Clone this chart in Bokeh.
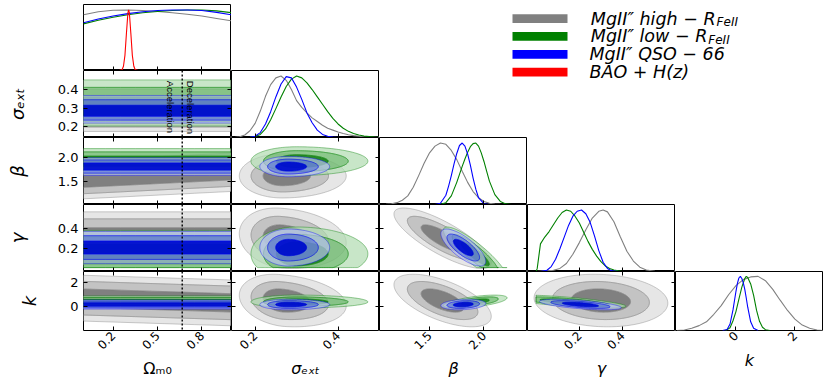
import numpy as np
from bokeh.plotting import figure
from bokeh.models import (Range1d, FixedTicker, LinearAxis, CustomJSTickFormatter,
                          GridPlot, Span)
from bokeh.core.properties import value
from bokeh.embed import file_html
from bokeh.resources import INLINE

# ------------------------------------------------------------------ data
axis_titles = ["Ωₘ₀", "σₑₓₜ", "β", "γ", "k"]
axis_italic = [False, True, True, True, True]
axis_limits = [(0.0, 1.0), (0.143, 0.5), (1.04, 2.40), (-0.04, 0.645), (-2.05, 2.97)]
x_tick_values = [[0.2, 0.5, 0.8], [0.2, 0.4], [1.5, 2.0], [0.2, 0.4], [0, 2]]
x_tick_labels = [["0.2", "0.5", "0.8"], ["0.2", "0.4"], ["1.5", "2.0"], ["0.2", "0.4"], ["0", "2"]]
y_tick_values = [[], [0.2, 0.3, 0.4], [1.5, 2.0], [0.2, 0.4], [0, 2]]
y_tick_labels = [[], ["0.2", "0.3", "0.4"], ["1.5", "2.0"], ["0.2", "0.4"], ["0", "2"]]
om_boundary = 0.667
region_labels = ["Acceleration", "Deceleration"]

series = ["gray", "green", "blue", "red"]
series_colors = ["#808080", "#008000", "#0000ff", "#ff0000"]
legend_main = ["MgII″ high − R", "MgII″ low − R", "MgII″ QSO − 66", "BAO + H(z)"]
legend_sub = ["FeII", "FeII", "", ""]

# 1-D marginals (positions, relative heights)
om_x = [0.0, 0.1, 0.2, 0.3, 0.4, 0.5, 0.6, 0.7, 0.8, 0.9, 1.0]
om_gray = [0.92, 0.97, 0.995, 1.0, 0.99, 0.975, 0.955, 0.93, 0.9, 0.86, 0.82]
om_green = [0.77, 0.83, 0.88, 0.92, 0.955, 0.975, 0.99, 1.0, 1.0, 0.985, 0.955]
om_blue = [0.79, 0.85, 0.9, 0.94, 0.97, 0.99, 1.0, 1.0, 0.99, 0.96, 0.92]
om_red_x = [0.24, 0.26, 0.27, 0.28, 0.29, 0.30, 0.305, 0.31, 0.32, 0.33, 0.34, 0.35, 0.37]
om_red = [0.0, 0.01, 0.07, 0.25, 0.61, 0.95, 1.0, 0.95, 0.61, 0.25, 0.07, 0.01, 0.0]

sig_x = [0.15, 0.1625, 0.175, 0.1875, 0.2, 0.2125, 0.225, 0.2375, 0.25, 0.2625, 0.275,
         0.2875, 0.3, 0.3125, 0.325, 0.3375, 0.35, 0.3625, 0.375, 0.3875, 0.4, 0.4125,
         0.425, 0.4375, 0.45, 0.4625, 0.475, 0.4875, 0.5]
sig_gray = [0.0, 0.01, 0.04, 0.11, 0.23, 0.43, 0.67, 0.86, 0.97, 1.0, 0.93, 0.78, 0.6, 0.49,
            0.4, 0.32, 0.26, 0.2, 0.15, 0.12, 0.09, 0.065, 0.045, 0.03, 0.02, 0.012, 0.006,
            0.003, 0.0]
sig_green = [0.0, 0.0, 0.0, 0.003, 0.015, 0.05, 0.14, 0.29, 0.47, 0.66, 0.83, 0.95, 1.0, 0.97,
             0.89, 0.78, 0.66, 0.54, 0.42, 0.31, 0.22, 0.15, 0.1, 0.065, 0.04, 0.025, 0.015,
             0.008, 0.004]
sig_blue = [0.0, 0.0, 0.0, 0.005, 0.02, 0.08, 0.22, 0.42, 0.66, 0.87, 0.99, 0.97, 0.82, 0.62,
            0.4, 0.24, 0.12, 0.05, 0.02, 0.006, 0.0, 0.0, 0.0, 0.0, 0.0, 0.0, 0.0, 0.0, 0.0]

beta_gray_x = [1.05, 1.1, 1.15, 1.2, 1.25, 1.3, 1.35, 1.4, 1.45, 1.5, 1.55, 1.6, 1.65, 1.7,
               1.75, 1.8, 1.85, 1.9, 1.95, 2.0, 2.05, 2.1, 2.15, 2.2, 2.25]
beta_gray = [0.0, 0.003, 0.01, 0.03, 0.07, 0.14, 0.28, 0.47, 0.67, 0.84, 0.95, 1.0, 0.98, 0.88,
             0.73, 0.54, 0.36, 0.21, 0.11, 0.05, 0.02, 0.007, 0.002, 0.0, 0.0]
beta_green_x = [1.55, 1.6, 1.65, 1.7, 1.75, 1.8, 1.825, 1.85, 1.875, 1.9, 1.925, 1.95, 1.975,
                2.0, 2.025, 2.05, 2.1, 2.15, 2.2, 2.25]
beta_green = [0.0, 0.005, 0.03, 0.14, 0.36, 0.62, 0.74, 0.85, 0.94, 0.99, 1.0, 0.95, 0.84,
              0.7, 0.54, 0.38, 0.16, 0.05, 0.01, 0.0]
beta_blue_x = [1.55, 1.6, 1.65, 1.675, 1.7, 1.725, 1.75, 1.775, 1.8, 1.825, 1.85, 1.875, 1.9,
               1.925, 1.95, 2.0, 2.05]
beta_blue = [0.0, 0.02, 0.15, 0.3, 0.47, 0.66, 0.83, 0.96, 1.0, 0.95, 0.82, 0.64, 0.43, 0.25,
             0.11, 0.01, 0.0]

gam_gray_x = [0.0, 0.05, 0.08, 0.11, 0.14, 0.17, 0.2, 0.23, 0.26, 0.29, 0.31, 0.33, 0.36, 0.39,
              0.42, 0.45, 0.48, 0.51, 0.55, 0.6, 0.64]
gam_gray = [0.0, 0.01, 0.02, 0.05, 0.13, 0.28, 0.47, 0.68, 0.87, 0.98, 1.0, 0.97, 0.81, 0.56,
            0.33, 0.17, 0.07, 0.025, 0.005, 0.0, 0.0]
gam_green_x = [-0.05, 0.0, 0.005, 0.02, 0.04, 0.06, 0.08, 0.1, 0.12, 0.14, 0.16, 0.18, 0.2,
               0.22, 0.24, 0.26, 0.28, 0.3, 0.32, 0.34, 0.36, 0.38, 0.4]
gam_green = [0.0, 0.0, 0.05, 0.45, 0.56, 0.65, 0.76, 0.87, 0.96, 1.0, 0.98, 0.9, 0.79, 0.64,
             0.49, 0.36, 0.25, 0.16, 0.09, 0.05, 0.025, 0.01, 0.0]
gam_blue_x = [0.02, 0.05, 0.07, 0.09, 0.11, 0.13, 0.15, 0.17, 0.19, 0.21, 0.23, 0.25, 0.27,
              0.29, 0.31, 0.33, 0.35, 0.38]
gam_blue = [0.0, 0.02, 0.08, 0.2, 0.37, 0.56, 0.75, 0.9, 0.98, 1.0, 0.94, 0.8, 0.58, 0.34,
            0.15, 0.05, 0.01, 0.0]

k_gray_x = [-2.0, -1.75, -1.5, -1.25, -1.0, -0.75, -0.5, -0.25, 0.0, 0.25, 0.5, 0.75, 1.0,
            1.25, 1.5, 1.75, 2.0, 2.25, 2.5, 2.75, 2.95]
k_gray = [0.0, 0.01, 0.04, 0.09, 0.16, 0.3, 0.46, 0.66, 0.83, 0.94, 0.99, 1.0, 0.92, 0.76,
          0.56, 0.37, 0.21, 0.1, 0.04, 0.01, 0.0]
k_green_x = [-0.35, -0.2, -0.1, 0.0, 0.1, 0.2, 0.3, 0.35, 0.4, 0.5, 0.6, 0.7, 0.8, 0.9, 1.0, 1.15]
k_green = [0.0, 0.05, 0.18, 0.35, 0.58, 0.8, 0.96, 1.0, 0.98, 0.86, 0.65, 0.37, 0.17, 0.06,
           0.015, 0.0]
k_blue_x = [-0.45, -0.3, -0.2, -0.1, 0.0, 0.05, 0.1, 0.15, 0.2, 0.25, 0.3, 0.35, 0.4, 0.5, 0.6, 0.75]
k_blue = [0.0, 0.02, 0.12, 0.38, 0.72, 0.87, 0.97, 1.0, 0.96, 0.88, 0.76, 0.6, 0.43, 0.16,
          0.04, 0.0]

# 2-D posterior summaries
# index: 0 Om (flat), 1 sigma_ext, 2 beta, 3 gamma, 4 k
gray_mode = [None, 0.265, 1.62, 0.30, 0.50]
gray_sd_lo = [None, 0.030, 0.13, 0.09, 0.65]
gray_sd_hi = [None, 0.045, 0.13, 0.09, 0.65]
gray_om_slope = [0.0, 0.0, 0.15, 0.0, -0.4]
green_mode = [None, 0.30, 1.92, 0.14, 0.38]
green_sd_lo = [None, 0.032, 0.085, 0.08, 0.15]
green_sd_hi = [None, 0.050, 0.085, 0.08, 0.17]
green_om_slope = [0.0, 0.0, 0.0, 0.0, 0.0]
blue_mode = [None, 0.28, 1.81, 0.205, 0.16]
blue_sd_lo = [None, 0.020, 0.06, 0.055, 0.13]
blue_sd_hi = [None, 0.029, 0.06, 0.055, 0.13]
blue_om_slope = [0.0, 0.0, 0.0, 0.0, 0.0]
pair_list = [(1, 2), (1, 3), (1, 4), (2, 3), (2, 4), (3, 4)]
gray_corr = [0.0, -0.15, -0.2, -0.8, -0.6, -0.1]
green_corr = [0.0, 0.0, 0.0, -0.88, 0.6, -0.7]
blue_corr = [0.0, 0.0, 0.0, -0.75, 0.2, -0.6]
green_lower = [None, None, None, 0.0, None]
ellipse_levels = [1.52, 2.49, 3.44]
band_levels = [1.2, 2.2, 3.0]

# ------------------------------------------------------------------ styles
shade = {
    "gray": ["#797979", "#b4b4b4", "#dbdbdb"],
    "green": ["#1d861d", "#6fba6f", "#b0dbb0"],
    "blue": ["#000dd5", "#6f82e6", "#b8c2f1"],
}
level_alpha = [0.95, 0.8, 0.7]
line_col = dict(zip(series, series_colors))

stats = {
    "gray": (gray_mode, gray_sd_lo, gray_sd_hi, gray_om_slope, gray_corr, [None] * 5),
    "green": (green_mode, green_sd_lo, green_sd_hi, green_om_slope, green_corr, green_lower),
    "blue": (blue_mode, blue_sd_lo, blue_sd_hi, blue_om_slope, blue_corr, [None] * 5),
}
curves = {
    0: [(om_x, om_gray, "gray"), (om_x, om_green, "green"), (om_x, om_blue, "blue"),
        (om_red_x, om_red, "red")],
    1: [(sig_x, sig_gray, "gray"), (sig_x, sig_green, "green"), (sig_x, sig_blue, "blue")],
    2: [(beta_gray_x, beta_gray, "gray"), (beta_green_x, beta_green, "green"),
        (beta_blue_x, beta_blue, "blue")],
    3: [(gam_gray_x, gam_gray, "gray"), (gam_green_x, gam_green, "green"),
        (gam_blue_x, gam_blue, "blue")],
    4: [(k_gray_x, k_gray, "gray"), (k_green_x, k_green, "green"), (k_blue_x, k_blue, "blue")],
}

N = 5
COL_W = 148
LEFT_B = 83
ROW_H = 67
TOP_B = 4
TOP_H = 66
BOT_B = 43
DIAG_TOP = 1.09
FONT = "DejaVu Sans"


def clip_lower(y, lo):
    return y if lo is None else np.maximum(y, lo)


def ellipse_ring(ds, ci, ri, R):
    mode, slo, shi, _, corr, lower = stats[ds]
    rho = corr[pair_list.index((ci, ri))]
    t = np.linspace(0.0, 2 * np.pi, 161)
    a = R * np.cos(t)
    b = rho * a + np.sqrt(1 - rho ** 2) * R * np.sin(t)
    x = mode[ci] + np.where(a >= 0, a * shi[ci], a * slo[ci])
    y = mode[ri] + np.where(b >= 0, b * shi[ri], b * slo[ri])
    return clip_lower(x, lower[ci]), clip_lower(y, lower[ri])


def band_ring(ds, ri, n):
    mode, slo, shi, slope, _, lower = stats[ds]
    om = np.linspace(axis_limits[0][0] - 0.05, axis_limits[0][1] + 0.05, 12)
    c = mode[ri] + slope[ri] * (om - 0.5)
    top = clip_lower(c + n * shi[ri], lower[ri])
    bot = clip_lower(c - n * slo[ri], lower[ri])
    return np.concatenate([om, om[::-1]]), np.concatenate([top, bot[::-1]])


def add_axis(p, side, ticks, labels=None, title=None, italic=False):
    fixed = None
    if labels is None:
        fixed = {"left": p.x_range.start, "right": p.x_range.end,
                 "below": p.y_range.start, "above": p.y_range.end}[side]
    ax = LinearAxis(ticker=FixedTicker(ticks=list(ticks)), fixed_location=fixed,
                    major_tick_in=4, major_tick_out=0, minor_tick_in=0, minor_tick_out=0,
                    axis_line_color=None, major_tick_line_color="black",
                    major_tick_line_width=1)
    if labels is None:
        ax.formatter = CustomJSTickFormatter(code="return ''")
        ax.major_label_text_font_size = "0px"
        ax.major_label_standoff = 0
    else:
        ax.major_label_overrides = {float(t): l for t, l in zip(ticks, labels)}
        ax.major_label_text_font = FONT
        ax.major_label_text_color = "black"
        if side == "below":
            ax.major_label_orientation = np.pi / 4
            ax.major_label_text_font_size = "12px"
            ax.major_label_standoff = 3
            ax.axis_label_standoff = 3
            ax.axis_label_text_font_size = "16px"
        else:
            ax.major_label_text_font_size = "13px"
            ax.major_label_standoff = 5
            ax.axis_label_standoff = 27
            ax.axis_label_text_font_size = "18px"
        if title is not None:
            ax.axis_label = title
            ax.axis_label_text_font = FONT
            ax.axis_label_text_color = "black"
            ax.axis_label_text_font_style = "italic" if italic else "normal"
    p.add_layout(ax, side)


def make_fig(r, c):
    w = COL_W + (LEFT_B if c == 0 else 0)
    h = (TOP_H + TOP_B if r == 0 else ROW_H) + (BOT_B if r == N - 1 else 0)
    yr = Range1d(0, DIAG_TOP) if r == c else Range1d(*axis_limits[r])
    p = figure(width=w, height=h, x_range=Range1d(*axis_limits[c]), y_range=yr,
               x_axis_location=None, y_axis_location=None, toolbar_location=None,
               output_backend="svg", min_border=0,
               min_border_left=LEFT_B if c == 0 else 0,
               min_border_top=TOP_B if r == 0 else 0,
               min_border_bottom=BOT_B if r == N - 1 else 0,
               outline_line_color="black", outline_line_width=1,
               background_fill_color="white", border_fill_color="white")
    p.grid.visible = False
    return p


figs = {}
for r in range(N):
    for c in range(r + 1):
        p = make_fig(r, c)
        last = r == N - 1
        if r == c:
            for xs, ys, ds in curves[c]:
                p.line(xs, ys, line_color=line_col[ds], line_width=1.1)
        else:
            for ds in ["gray", "green", "blue"]:
                if c == 0:
                    rings = [band_ring(ds, r, n) for n in band_levels]
                else:
                    rings = [ellipse_ring(ds, c, r, R) for R in ellipse_levels]
                for L in (2, 1, 0):
                    xs = [list(rings[L][0])]
                    ys = [list(rings[L][1])]
                    if L > 0:
                        xs.append(list(rings[L - 1][0][::-1]))
                        ys.append(list(rings[L - 1][1][::-1]))
                    p.multi_polygons(xs=[[xs]], ys=[[ys]], fill_color=shade[ds][L],
                                     fill_alpha=level_alpha[L], line_color=line_col[ds],
                                     line_alpha=0.5, line_width=0.8)
            if c == 0:
                p.add_layout(Span(location=om_boundary, dimension="height",
                                  line_color="black", line_dash="2 2", line_width=1.4))
                if r == 1:
                    p.text(x=[om_boundary - 0.078, om_boundary + 0.058],
                           y=[0.445, 0.445], text=region_labels, angle=-np.pi / 2,
                           text_font=value("Liberation Sans"), text_font_size="9.5px",
                           text_align="left", text_baseline="middle", text_color="black")
            if c == 0:
                add_axis(p, "left", y_tick_values[r], y_tick_labels[r],
                         axis_titles[r], axis_italic[r])
            else:
                add_axis(p, "left", y_tick_values[r])
            add_axis(p, "right", y_tick_values[r])
            add_axis(p, "above", x_tick_values[c])
        if last:
            add_axis(p, "below", x_tick_values[c], x_tick_labels[c],
                     axis_titles[c], axis_italic[c])
        else:
            add_axis(p, "below", x_tick_values[c])
        figs[(r, c)] = p

# ------------------------------------------------------------------ legend panel
LW, LH = 3 * COL_W, TOP_H + TOP_B + ROW_H
lg = figure(width=LW, height=LH, x_range=Range1d(0, LW), y_range=Range1d(LH, 0),
            x_axis_location=None, y_axis_location=None, toolbar_location=None,
            output_backend="svg", min_border=0, outline_line_color=None,
            background_fill_color="white", border_fill_color="white")
lg.grid.visible = False
em = {"M": 0.863, "g": 0.635, "I": 0.295, "″": 0.45, " ": 0.318, "h": 0.634, "i": 0.278,
      "−": 0.838, "R": 0.695, "l": 0.278, "o": 0.612, "w": 0.818}
FS = 17.5
item_y = [14.5 + 18.4 * i for i in range(len(series))]
sw_left, sw_right, txt_x = 133, 188, 210
lg.quad(left=[sw_left] * 4, right=[sw_right] * 4, top=[y - 4.5 for y in item_y],
        bottom=[y + 4.5 for y in item_y], fill_color=series_colors, line_color=None)
for i in range(len(series)):
    if legend_sub[i]:
        join = txt_x + FS * sum(em.get(ch, 0.6) for ch in legend_main[i])
        lg.text(x=[join], y=[item_y[i]], text=[legend_main[i]], text_font=value(FONT),
                text_font_style="italic", text_font_size=f"{FS}px", text_align="right",
                text_baseline="middle", text_color="black")
        lg.text(x=[join + 1], y=[item_y[i] + 4], text=[legend_sub[i]], text_font=value(FONT),
                text_font_style="italic", text_font_size="12px", text_align="left",
                text_baseline="middle", text_color="black")
    else:
        lg.text(x=[txt_x], y=[item_y[i]], text=[legend_main[i]], text_font=value(FONT),
                text_font_style="italic", text_font_size=f"{FS}px", text_align="left",
                text_baseline="middle", text_color="black")

children = [(figs[(r, c)], r, c) for r in range(N) for c in range(r + 1)]
children.append((lg, 0, 2, 2, 3))
grid = GridPlot(children=children, toolbar_location=None, spacing=0)

open("out.html", "w").write(file_html(grid, INLINE))
